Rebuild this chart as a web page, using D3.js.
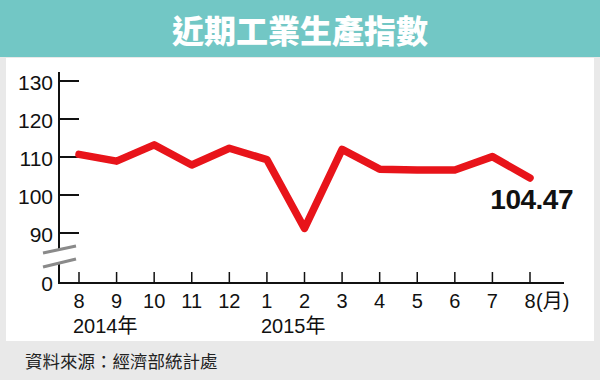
<!DOCTYPE html>
<html>
<head>
<meta charset="utf-8">
<script src="https://cdn.jsdelivr.net/npm/d3@7.9.0/dist/d3.min.js"></script>
<style>
  body { margin: 0; background: #e9e9e9; }
  svg { display: block; font-family: 'Liberation Sans', Arial, 'Noto Sans CJK TC', sans-serif; }
</style>
</head>
<body>
<svg id="chart" width="600" height="380"></svg>
<script>
const title = '近期工業生產指數';
const source = '資料來源：經濟部統計處';
const periods = ['2014-08', '2014-09', '2014-10', '2014-11', '2014-12', '2015-01', '2015-02',
                 '2015-03', '2015-04', '2015-05', '2015-06', '2015-07', '2015-08'];
const monthLabels = ['8', '9', '10', '11', '12', '1', '2', '3', '4', '5', '6', '7', '8'];
const yearLabels = [['2014-08', '2014年'], ['2015-01', '2015年']];
const values = [110.7, 108.9, 113.2, 107.9, 112.3, 109.3, 91.2, 112.0, 106.8, 106.6, 106.6, 110.1, 104.47];
const yTicks = [90, 100, 110, 120, 130];
const lastLabel = '104.47';

const svg = d3.select('#chart');

// background pieces
svg.append('rect').attr('x', 0).attr('y', 0).attr('width', 600).attr('height', 380).attr('fill', '#e9e9e9');
svg.append('rect').attr('x', 6).attr('y', 58).attr('width', 588).attr('height', 283).attr('fill', '#fff');
svg.append('rect').attr('x', 0).attr('y', 0).attr('width', 600).attr('height', 57).attr('fill', '#72c7c5');

svg.append('text')
    .attr('x', 300).attr('y', 29)
    .attr('text-anchor', 'middle')
    .attr('dominant-baseline', 'central')
    .attr('fill', '#fff')
    .attr('font-family', "'Noto Sans CJK TC', sans-serif")
    .attr('font-weight', 900)
    .attr('font-size', 32)
    .text(title);

svg.append('text')
    .attr('x', 25).attr('y', 360)
    .attr('dominant-baseline', 'central')
    .attr('fill', '#222')
    .attr('font-family', "'Noto Sans CJK TC', sans-serif")
    .attr('font-size', 17.5)
    .text(source);

const x = d3.scalePoint().domain(periods).range([79, 530]);
const y = d3.scaleLinear().domain([90, 130]).range([233, 81]);
const axisY = 283;
const axisX = 59;

// y axis line with break
svg.append('line')
    .attr('x1', axisX).attr('x2', axisX)
    .attr('y1', 72).attr('y2', axisY)
    .attr('stroke', '#111').attr('stroke-width', 2);

svg.append('polygon')
    .attr('points', '43,253 76,246 76,259 43,267')
    .attr('fill', '#fff');

[[253, 246], [267, 259]].forEach(([a, b]) => {
    svg.append('line')
        .attr('x1', 43).attr('y1', a).attr('x2', 76).attr('y2', b)
        .attr('stroke', '#8a8a8a').attr('stroke-width', 3);
});

// y ticks
const yg = svg.append('g');
yTicks.forEach((t) => {
    yg.append('line')
        .attr('x1', axisX).attr('x2', axisX + 20)
        .attr('y1', y(t)).attr('y2', y(t))
        .attr('stroke', '#111').attr('stroke-width', 2);
    yg.append('text')
        .attr('x', 53).attr('y', y(t) + 1)
        .attr('text-anchor', 'end')
        .attr('dominant-baseline', 'central')
        .attr('font-size', 21)
        .attr('fill', '#111')
        .text(t);
});
yg.append('text')
    .attr('x', 53).attr('y', axisY)
    .attr('text-anchor', 'end')
    .attr('dominant-baseline', 'central')
    .attr('font-size', 21)
    .attr('fill', '#111')
    .text('0');

// x axis
svg.append('line')
    .attr('x1', axisX - 1).attr('x2', 564)
    .attr('y1', axisY).attr('y2', axisY)
    .attr('stroke', '#111').attr('stroke-width', 2);

periods.forEach((p, i) => {
    svg.append('line')
        .attr('x1', x(p)).attr('x2', x(p))
        .attr('y1', axisY - 11).attr('y2', axisY)
        .attr('stroke', '#111').attr('stroke-width', 1.5);
    svg.append('text')
        .attr('x', x(p)).attr('y', 308)
        .attr('text-anchor', 'middle')
        .attr('font-size', 20)
        .attr('fill', '#111')
        .text(monthLabels[i]);
});

svg.append('text')
    .attr('x', x(periods[periods.length - 1]) + 6).attr('y', 308)
    .attr('font-size', 20)
    .attr('fill', '#111')
    .text('(月)');

yearLabels.forEach(([p, label]) => {
    svg.append('text')
        .attr('x', x(p) - 6).attr('y', 333)
        .attr('font-size', 20)
        .attr('fill', '#111')
        .text(label);
});

// data line
const line = d3.line()
    .x((d, i) => x(periods[i]))
    .y((d) => y(d));

svg.append('path')
    .attr('d', line(values))
    .attr('fill', 'none')
    .attr('stroke', '#e8141a')
    .attr('stroke-width', 7.5)
    .attr('stroke-linejoin', 'round')
    .attr('stroke-linecap', 'round');

svg.append('text')
    .attr('x', 573).attr('y', 209)
    .attr('text-anchor', 'end')
    .attr('font-size', 28)
    .attr('font-weight', 'bold')
    .attr('letter-spacing', -0.5)
    .attr('fill', '#111')
    .text(lastLabel);
</script>
</body>
</html>
